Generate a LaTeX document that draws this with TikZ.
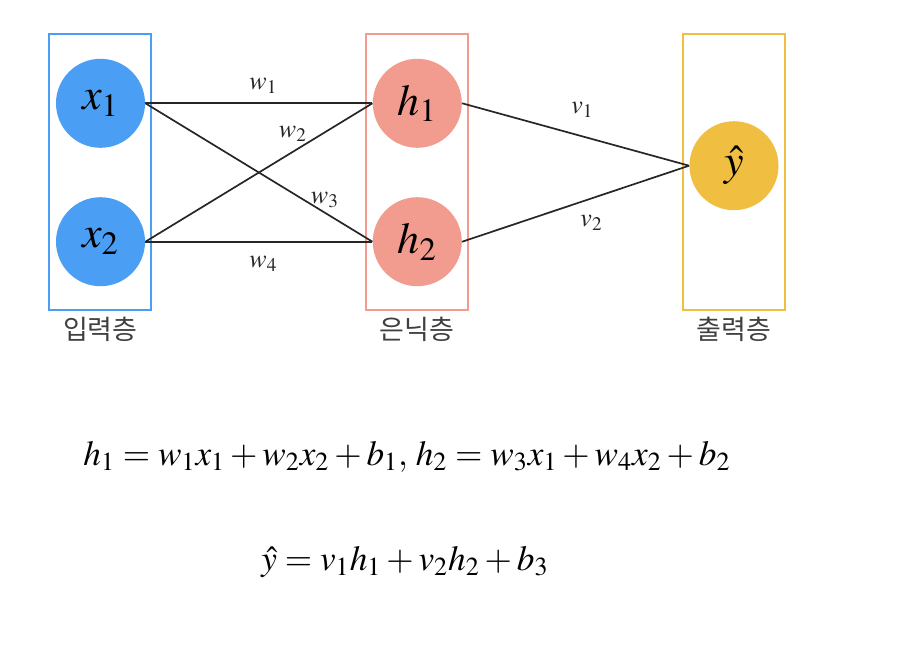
\documentclass[tikz,border=0pt]{standalone}
\usepackage{mathptmx}
\usepackage{fontspec}
\newfontfamily\kr{Noto Sans CJK KR}
\usepackage{tikz}

\definecolor{inblue}{HTML}{4A9FF5}
\definecolor{hidred}{HTML}{F19C8E}
\definecolor{outyel}{HTML}{F0BE41}

\begin{document}
\begin{tikzpicture}[x=0.5pt, y=-0.5pt,
        unit/.style={circle, minimum size=44.5pt, inner sep=0pt, font=\fontsize{22}{25}\selectfont},
        layer/.style={rectangle, minimum width=51pt, minimum height=138pt, inner sep=0pt, line width=1pt},
        wire/.style={line width=0.85pt, black!85},
        wlab/.style={inner sep=1pt, font=\fontsize{13}{15}\selectfont},
        layername/.style={font=\kr\fontsize{13.5}{16}\selectfont, text=black!75}]
        \useasboundingbox (0,0) rectangle (908,654);

        % Layer boxes
        \node[layer, draw=inblue] (inbox) at (100.3,171.5) {};
        \node[layer, draw=hidred] (hidbox) at (417.2,171.5) {};
        \node[layer, draw=outyel] (outbox) at (734,171.5) {};

        % Layer names
        \node[layername] (incap) at (100.3,329) {입력층};
        \node[layername] (hidcap) at (417.2,329) {은닉층};
        \node[layername] (outcap) at (734,329) {출력층};

        % Units
        \node[unit, fill=inblue] (x1) at (100.5,103.3) {$x_1$};
        \node[unit, fill=inblue] (x2) at (100.5,241.7) {$x_2$};
        \node[unit, fill=hidred] (h1) at (417.3,103.3) {$h_1$};
        \node[unit, fill=hidred] (h2) at (417.3,241.7) {$h_2$};
        \node[unit, fill=outyel] (yhat) at (734,165.7) {$\hat{y}$};

        % Input -> hidden
        \draw[wire] (x1.east) -- node[wlab, pos=0.52, above=3.5pt] (lw1) {$w_1$} (h1.west);
        \draw[wire] (x2.east) -- node[wlab, pos=0.65, above=3.5pt] (lw2) {$w_2$} (h1.west);
        \draw[wire] (x1.east) -- node[wlab, pos=0.76, above=-1pt, xshift=3.5pt] (lw3) {$w_3$} (h2.west);
        \draw[wire] (x2.east) -- node[wlab, pos=0.52, below=6pt] (lw4) {$w_4$} (h2.west);

        % Hidden -> output
        \draw[wire] (h1.east) -- node[wlab, pos=0.53, above=8pt] (lv1) {$v_1$} (yhat.west);
        \draw[wire] (h2.east) -- node[wlab, pos=0.57, below=7pt] (lv2) {$v_2$} (yhat.west);

        % Equations
        \node[anchor=base, font=\fontsize{17.6}{21}\selectfont] (eqh) at (407,465)
            {$h_1 = w_1x_1 + w_2x_2 + b_1,\, h_2 = w_3x_1 + w_4x_2 + b_2$};
        \node[anchor=base, font=\fontsize{17.6}{21}\selectfont] (eqy) at (405,570)
            {$\hat{y} = v_1h_1 + v_2h_2 + b_3$};
\end{tikzpicture}
\end{document}
